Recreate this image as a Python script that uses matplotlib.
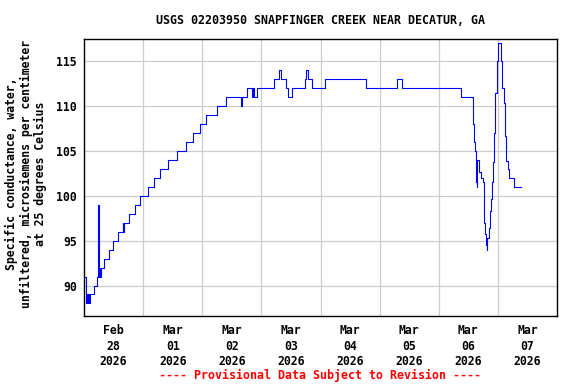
import matplotlib
matplotlib.use("Agg")
import matplotlib.pyplot as plt
import numpy as np

# hours since 2026-02-28 00:00 and specific conductance (uS/cm) at each change
hours = [
    0.15, 0.7, 1.1, 1.4, 1.6, 2.0, 2.3, 3.9, 5.3, 5.6, 5.8, 6.0, 6.2, 6.5, 6.8,
    8.0, 10.2, 11.8, 14.0, 15.8, 16.0, 16.3, 18.3, 20.6, 22.7, 26.0, 28.6, 31.0,
    34.1, 37.6, 41.6, 44.3, 47.0, 49.7, 53.8, 57.5, 63.6, 64.2, 66.2, 68.2,
    68.6, 68.9, 70.3, 77.2, 79.3, 79.8, 81.9, 82.8, 84.3, 89.6, 90.0, 90.8,
    92.5, 97.7, 114.5, 127.1, 129.1, 152.9, 157.7, 158.0, 158.3, 158.7, 159.1,
    159.4, 159.6, 160.2, 160.4, 161.1, 161.8, 162.3, 162.7, 163.0, 163.4,
    163.7, 164.2, 164.8, 165.2, 165.6, 166.1, 166.5, 166.9, 167.5, 167.9,
    168.8, 169.2, 169.8, 170.3, 170.7, 171.1, 171.5, 172.2, 172.6, 174.5, 177.2,
]
values = [
    91, 88, 89, 88, 89, 88, 89, 90, 91, 95, 99, 91, 92, 91, 92,
    93, 94, 95, 96, 97, 96, 97, 98, 99, 100, 101, 102, 103,
    104, 105, 106, 107, 108, 109, 110, 111, 110, 111, 112, 111,
    112, 111, 112, 113, 114, 113, 112, 111, 112, 113, 114, 113,
    112, 113, 112, 113, 112, 111, 110, 108, 106, 105, 101.5,
    101, 104, 103.4, 102.7, 102, 101.6, 97, 95.7, 94.5, 94,
    95.3, 96.4, 98.3, 99.6, 101.6, 103.8, 107, 111.5, 115, 117,
    117, 115, 112, 110.4, 106.7, 105.2, 103.9, 103, 102, 101, 101,
]

day_labels = ["Feb\n28\n2026", "Mar\n01\n2026", "Mar\n02\n2026", "Mar\n03\n2026",
              "Mar\n04\n2026", "Mar\n05\n2026", "Mar\n06\n2026", "Mar\n07\n2026"]
y_ticks = [90, 95, 100, 105, 110, 115]

title = "USGS 02203950 SNAPFINGER CREEK NEAR DECATUR, GA"
ylabel = ("Specific conductance, water,\n"
          "unfiltered, microsiemens per centimeter\n"
          "at 25 degrees Celsius")

plt.rcParams["font.family"] = "DejaVu Sans Mono"
plt.rcParams["font.weight"] = "bold"

fig = plt.figure(figsize=(5.76, 3.84), dpi=100)
ax = fig.add_axes([84 / 576, 68 / 384, 473 / 576, 277 / 384])

ax.plot(hours, values, color="#0000ff", lw=0.8, drawstyle="steps-post")

ax.set_xlim(0, 192)
ax.set_ylim(86.6, 117.5)

ax.set_xticks(np.arange(24, 192, 24))
ax.set_xticklabels([])
ax.set_xticks(np.arange(12, 192, 24), minor=True)
ax.set_xticklabels(day_labels, minor=True, fontsize=8.3, linespacing=1.25)
ax.set_yticks(y_ticks)
ax.set_yticklabels([str(v) for v in y_ticks], fontsize=8.3)
ax.tick_params(which="both", length=0, pad=6)
ax.tick_params(axis="y", pad=5)

ax.grid(True, which="major", color="#cccccc", lw=0.9)
ax.set_axisbelow(True)
for s in ax.spines.values():
    s.set_linewidth(1.0)
    s.set_color("black")

fig.text(26 / 576, 1 - 174 / 384, ylabel, rotation=90, ha="center", va="center",
         multialignment="center", fontsize=8.3, linespacing=1.15)
fig.text(320 / 576, 1 - 20 / 384, title, ha="center", va="center", fontsize=8.4)
fig.text(320 / 576, 1 - 375 / 384, "---- Provisional Data Subject to Revision ----",
         ha="center", va="center", fontsize=8.4, color="red")

fig.savefig("out.png", dpi=100)
